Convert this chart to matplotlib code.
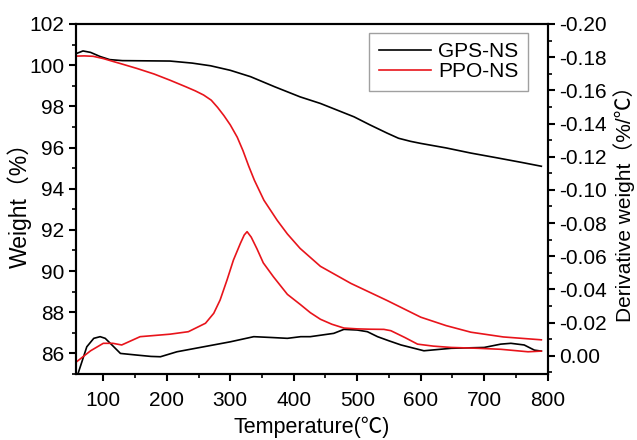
import matplotlib
matplotlib.use("Agg")
import matplotlib.pyplot as plt
from matplotlib.ticker import MultipleLocator, FuncFormatter

plt.rcParams['font.family'] = ['Liberation Sans', 'Noto Sans CJK SC', 'DejaVu Sans']

# TG curves (weight %)
t_gps_tg = [58, 68, 80, 95, 110, 130, 205, 240, 269, 300, 332, 370, 410, 442, 495, 520, 547, 565, 584, 600, 640, 679, 720, 760, 790]
w_gps = [100.57, 100.69, 100.62, 100.42, 100.27, 100.22, 100.2, 100.1, 99.97, 99.75, 99.44, 98.95, 98.46, 98.14, 97.49, 97.1, 96.7, 96.45, 96.3, 96.2, 95.98, 95.73, 95.5, 95.27, 95.09]

t_ppo_tg = [58, 70, 84, 100, 111, 130, 153, 180, 205, 230, 245, 258, 270, 280, 290, 300, 311, 320, 329, 338, 353, 374, 390, 410, 442, 490, 547, 600, 640, 679, 730, 790]
w_ppo = [100.44, 100.45, 100.43, 100.32, 100.22, 100.05, 99.84, 99.57, 99.27, 98.95, 98.75, 98.55, 98.3, 97.95, 97.55, 97.1, 96.5, 95.85, 95.1, 94.41, 93.44, 92.46, 91.8, 91.1, 90.23, 89.4, 88.57, 87.76, 87.35, 87.03, 86.8, 86.66]

# DTG curves (%/°C)
t_gps_dtg = [60, 66, 74, 85, 95, 103, 111, 127, 153, 175, 190, 216, 258, 300, 337, 365, 390, 411, 426, 463, 479, 500, 516, 532, 550, 569, 605, 648, 700, 726, 742, 763, 779, 790]
d_gps = [-0.011, -0.004, 0.0054, 0.0105, 0.0115, 0.0105, 0.0075, 0.0014, 0.0004, -0.0004, -0.0006, 0.0024, 0.0054, 0.0084, 0.0115, 0.011, 0.0105, 0.0115, 0.0115, 0.0135, 0.0159, 0.0155, 0.0145, 0.0115, 0.009, 0.0065, 0.003, 0.0045, 0.005, 0.007, 0.0075, 0.0065, 0.0034, 0.0028]

t_ppo_dtg = [58, 80, 100, 115, 129, 158, 205, 234, 261, 274, 284, 295, 305, 316, 322, 326.5, 333, 342, 352, 368, 390, 410, 426, 442, 460, 479, 500, 520, 542, 553, 575, 595, 620, 648, 690, 726, 769, 790]
d_ppo = [-0.0036, 0.003, 0.0075, 0.0075, 0.0065, 0.0115, 0.013, 0.0145, 0.0196, 0.0256, 0.0336, 0.0458, 0.0577, 0.0678, 0.0728, 0.0748, 0.0715, 0.0645, 0.056, 0.0476, 0.037, 0.031, 0.026, 0.022, 0.019, 0.0167, 0.0162, 0.016, 0.0159, 0.0151, 0.011, 0.007, 0.0058, 0.005, 0.0045, 0.0039, 0.0024, 0.0028]

# derivative axis shows mass loss rate as negative values (inverted axis)
d_gps_neg = [-v for v in d_gps]
d_ppo_neg = [-v for v in d_ppo]

fig, ax = plt.subplots(figsize=(6.37, 4.4), dpi=100)
fig.subplots_adjust(left=0.1193, right=0.8598, top=0.9455, bottom=0.15)
ax2 = ax.twinx()

red = '#e8141b'
l1, = ax.plot(t_gps_tg, w_gps, color='black', lw=1.2, label='GPS-NS')
l2, = ax.plot(t_ppo_tg, w_ppo, color=red, lw=1.2, label='PPO-NS')
ax2.plot(t_gps_dtg, d_gps_neg, color='black', lw=1.2)
ax2.plot(t_ppo_dtg, d_ppo_neg, color=red, lw=1.2)

ax.set_xlim(57, 800)
ax.set_ylim(85, 102)
ax2.set_ylim(0.011, -0.20)

ax.xaxis.set_major_locator(MultipleLocator(100))
ax.xaxis.set_minor_locator(MultipleLocator(50))
ax.yaxis.set_major_locator(MultipleLocator(2))
ax.yaxis.set_minor_locator(MultipleLocator(1))
ax2.yaxis.set_major_locator(MultipleLocator(0.02))
ax2.yaxis.set_minor_locator(MultipleLocator(0.01))
ax2.yaxis.set_major_formatter(FuncFormatter(lambda v, p: "0.00" if abs(v) < 1e-9 else f"{v:.2f}"))

for a in (ax, ax2):
    for s in a.spines.values():
        s.set_linewidth(1.5)
    a.tick_params(which='major', direction='out', length=5, width=1.5, labelsize=15)
    a.tick_params(which='minor', direction='out', length=3, width=1.2)
ax.tick_params(axis='x', pad=7)

ax.set_xlabel('Temperature(℃)', fontsize=15.5, labelpad=5)
ax.set_ylabel('Weight（%）', fontsize=16.5, labelpad=-2)
ax2.set_ylabel('Derivative weight（%/℃）', fontsize=15, labelpad=4)

leg = ax.legend(handles=[l1, l2], loc='upper right', bbox_to_anchor=(0.958, 0.974),
                borderaxespad=0, fontsize=15, frameon=True, fancybox=False,
                handlelength=2.5, borderpad=0.45, labelspacing=0.05, handletextpad=0.35)
leg.get_frame().set_edgecolor('#888888')
leg.get_frame().set_linewidth(1.0)

fig.savefig('out.png', dpi=100)
